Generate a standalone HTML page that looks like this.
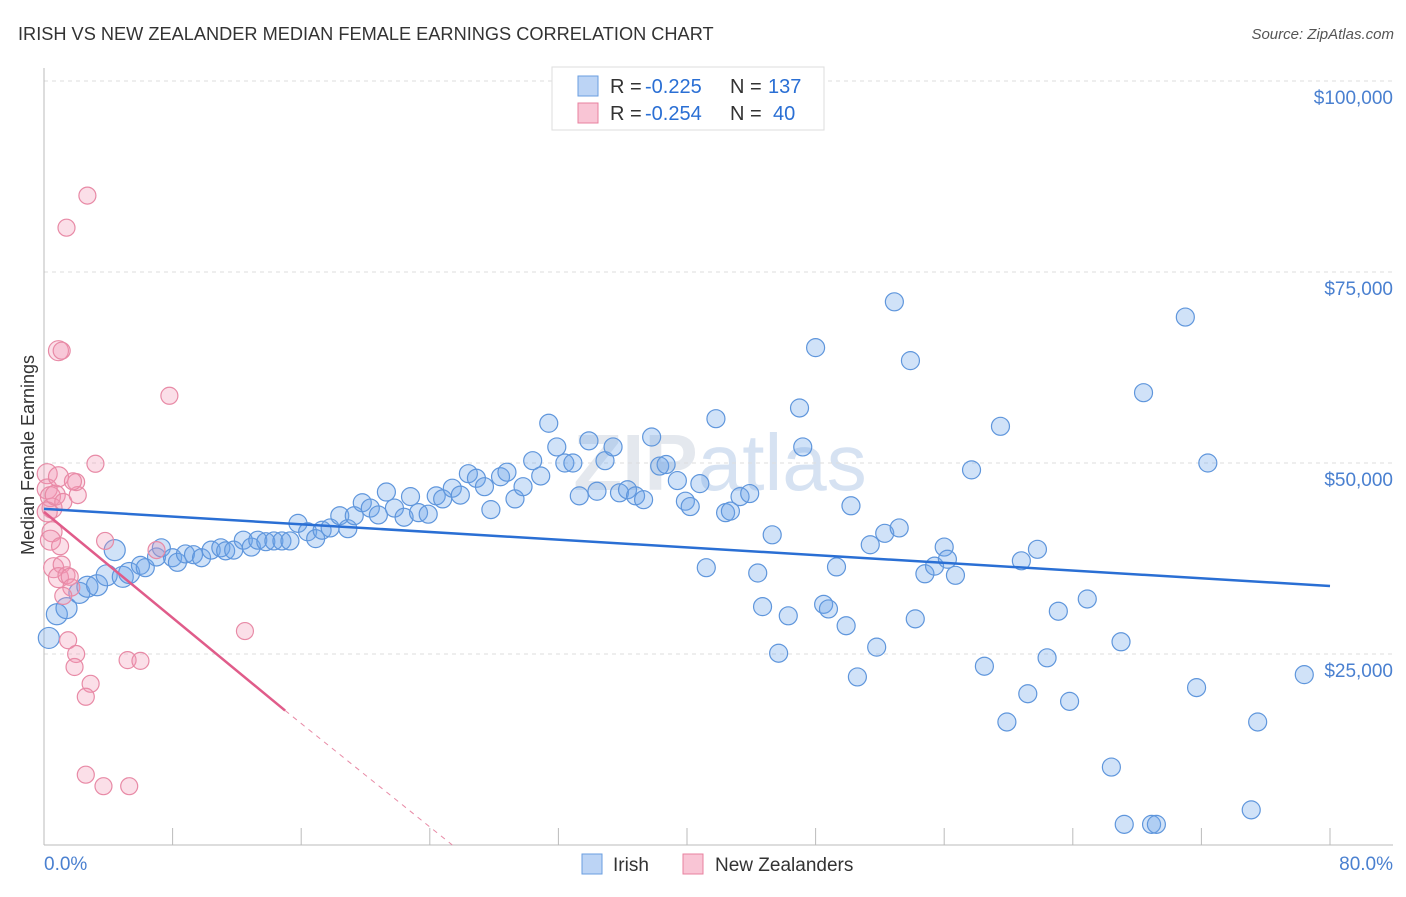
<!DOCTYPE html>
<html><head><meta charset="utf-8"><style>
body{margin:0;background:#fff;font-family:"Liberation Sans",sans-serif}
svg text{font-family:"Liberation Sans",sans-serif}
</style></head><body>
<svg id="c" width="1406" height="892" xmlns="http://www.w3.org/2000/svg">
<text x="18" y="40" font-size="18.2" fill="#333">IRISH VS NEW ZEALANDER MEDIAN FEMALE EARNINGS CORRELATION CHART</text>
<text x="1394" y="39" font-size="15" fill="#555" font-style="italic" text-anchor="end">Source: ZipAtlas.com</text>
<text x="720" y="490" font-size="80" fill="#e4e8ee" text-anchor="middle" font-weight="bold">ZIP<tspan font-weight="normal" fill="#d6e2f2">atlas</tspan></text>
<g id="grid"></g>
<g id="axes"></g>
<g id="pts"></g>
<g id="lines"></g>
<text transform="translate(34,455) rotate(-90)" font-size="18" fill="#333" text-anchor="middle">Median Female Earnings</text>
<text x="44" y="870" font-size="19" fill="#4a80d0">0.0%</text>
<text x="1393" y="870" font-size="19" fill="#4a80d0" text-anchor="end">80.0%</text>
<g>
<rect x="552" y="67" width="272" height="63" fill="#fff" stroke="#ddd"/>
<rect x="578" y="76" width="20" height="20" fill="#bcd4f5" stroke="#6a9ee0"/>
<rect x="578" y="103" width="20" height="20" fill="#f9c5d5" stroke="#e8819f"/>
<text x="610" y="93" font-size="20" fill="#333">R =</text>
<text x="645" y="93" font-size="20" fill="#2a6fd4">-0.225</text>
<text x="730" y="93" font-size="20" fill="#333">N =</text>
<text x="768" y="93" font-size="20" fill="#2a6fd4">137</text>
<text x="610" y="120" font-size="20" fill="#333">R =</text>
<text x="645" y="120" font-size="20" fill="#2a6fd4">-0.254</text>
<text x="730" y="120" font-size="20" fill="#333">N =</text>
<text x="773" y="120" font-size="20" fill="#2a6fd4">40</text>
</g>
<g>
<rect x="582" y="854" width="20" height="20" fill="#bcd4f5" stroke="#6a9ee0"/>
<text x="613" y="871" font-size="19" fill="#333">Irish</text>
<rect x="683" y="854" width="20" height="20" fill="#f9c5d5" stroke="#e8819f"/>
<text x="715" y="871" font-size="19" fill="#333">New Zealanders</text>
</g>
</svg>
<script>
const yTicks=[25000,50000,75000,100000];
const yTickLabels=["$25,000","$50,000","$75,000","$100,000"];
const xTicks=[0,8,16,24,32,40,48,56,64,72,80];
const irishX=[0.3,0.8,1.4,2.2,2.7,3.3,3.9,4.9,5.3,4.4,6.0,6.3,7.0,7.3,8.0,8.3,8.8,9.3,9.8,10.4,11.0,11.3,11.8,12.4,12.9,13.3,13.8,14.3,14.8,15.3,15.8,16.4,16.9,17.3,17.8,18.4,18.9,19.3,19.8,20.3,20.8,21.3,21.8,22.4,22.8,23.3,23.9,24.4,24.8,25.4,25.9,26.4,26.9,27.4,27.8,28.4,28.8,29.3,29.8,30.4,30.9,31.4,31.9,32.4,32.9,33.3,33.9,34.4,34.9,35.4,35.8,36.3,36.8,37.3,37.8,38.3,38.7,39.4,39.9,40.2,40.8,41.2,41.8,42.4,42.7,43.3,43.9,44.4,44.7,45.3,45.7,46.3,47.0,47.2,48.0,48.5,48.8,49.3,49.9,50.2,50.6,51.4,51.8,52.3,52.9,53.2,53.9,54.2,54.8,55.4,56.0,56.2,56.7,57.7,58.5,59.5,59.9,60.8,61.2,61.8,62.4,63.1,63.8,64.9,66.4,67.0,67.2,68.4,68.9,69.2,71.0,71.7,72.4,75.1,75.5,78.4];
const irishY=[27100,30200,31000,33000,33800,34000,35300,35100,35600,38600,36600,36300,37700,38900,37600,37000,38100,38000,37600,38600,38900,38500,38600,39900,39000,39900,39700,39800,39800,39800,42100,41000,40100,41200,41500,43100,41400,43100,44800,44100,43200,46200,44100,42900,45600,43500,43300,45700,45300,46700,45800,48600,48000,46900,43900,48200,48800,45300,46900,50300,48300,55200,52100,50000,50000,45700,52900,46300,50300,52100,46100,46500,45700,45200,53400,49600,49800,47700,45000,44300,47300,36300,55800,43500,43700,45600,46000,35600,31200,40600,25100,30000,57200,52100,65100,31500,30900,36400,28700,44400,22000,39300,25900,40800,71100,41500,63400,29600,35500,36500,39000,37400,35300,49100,23400,54800,16100,37200,19800,38700,24500,30600,18800,32200,10200,26600,2700,59200,2700,2700,69100,20600,50000,4600,16100,22300];
const nzX=[0.2,0.2,0.4,0.5,0.2,0.5,0.4,0.7,0.9,1.2,1.0,0.6,1.1,0.9,1.4,1.6,1.7,1.5,2.0,1.9,2.1,2.0,1.8,2.7,1.4,0.9,1.1,3.2,2.9,2.6,2.6,3.7,5.3,3.8,5.2,6.0,7.0,7.8,12.5,1.2];
const nzY=[48600,46600,45600,44100,43600,41000,39900,45800,48200,44900,39100,36300,36700,35000,35300,35100,33700,26800,25000,23300,45800,47500,47600,85000,80800,64700,64700,49900,21100,19400,9200,7700,7700,39800,24200,24100,38600,58800,28000,32600];
const irishTrend=[[0,44000],[80,33900]];
const nzTrend=[[0,43600],[15,17600],[25.4,0]];
const X=v=>44+v/80*1286;
const Y=v=>845-v/25000*191;
const NS="http://www.w3.org/2000/svg";
function mk(tag,attrs,parent){const e=document.createElementNS(NS,tag);for(const k in attrs)e.setAttribute(k,attrs[k]);parent.appendChild(e);return e;}
const grid=document.getElementById('grid'),axes=document.getElementById('axes'),pts=document.getElementById('pts'),lines=document.getElementById('lines');
yTicks.forEach((t,i)=>{
 const l=mk('line',{x1:44,x2:1393,y1:Y(t),y2:Y(t),stroke:'#ddd','stroke-dasharray':'4,4'},grid);
 
 
 const tx=mk('text',{x:1393,y:Y(t)+23,'font-size':19,fill:'#4a80d0','text-anchor':'end'},grid);
 tx.textContent=yTickLabels[i];
 
 
});
const ax=mk('line',{x1:44,x2:44,y1:68,y2:845,stroke:'#bbb'},axes);


const bx=mk('line',{x1:44,x2:1393,y1:845,y2:845,stroke:'#bbb'},axes);


xTicks.forEach(t=>{
 const l=mk('line',{x1:X(t),x2:X(t),y1:828,y2:845,stroke:'#bbb'},axes);
 
 
});
irishX.forEach((x,i)=>{
 const c=mk('circle',{cx:X(x),cy:Y(irishY[i]),r:x<6?10.5:9,fill:'rgba(110,165,232,0.32)',stroke:'#5f96dc','stroke-width':1.2},pts);
 
 
});
nzX.forEach((x,i)=>{
 const c=mk('circle',{cx:X(x),cy:Y(nzY[i]),r:x<1?10:8.5,fill:'rgba(242,150,180,0.3)',stroke:'#e88aa6','stroke-width':1.2},pts);
 
 
});
const bl=mk('line',{x1:X(irishTrend[0][0]),y1:Y(irishTrend[0][1]),x2:X(irishTrend[1][0]),y2:Y(irishTrend[1][1]),stroke:'#2a6fd4','stroke-width':2.5},lines);


const pl=mk('line',{x1:X(nzTrend[0][0]),y1:Y(nzTrend[0][1]),x2:X(nzTrend[1][0]),y2:Y(nzTrend[1][1]),stroke:'#e05c8a','stroke-width':2.5},lines);


const pd=mk('line',{x1:X(nzTrend[1][0]),y1:Y(nzTrend[1][1]),x2:X(nzTrend[2][0]),y2:Y(nzTrend[2][1]),stroke:'#e88aa6','stroke-width':1,'stroke-dasharray':'5,5'},lines);


</script>
</body></html>
